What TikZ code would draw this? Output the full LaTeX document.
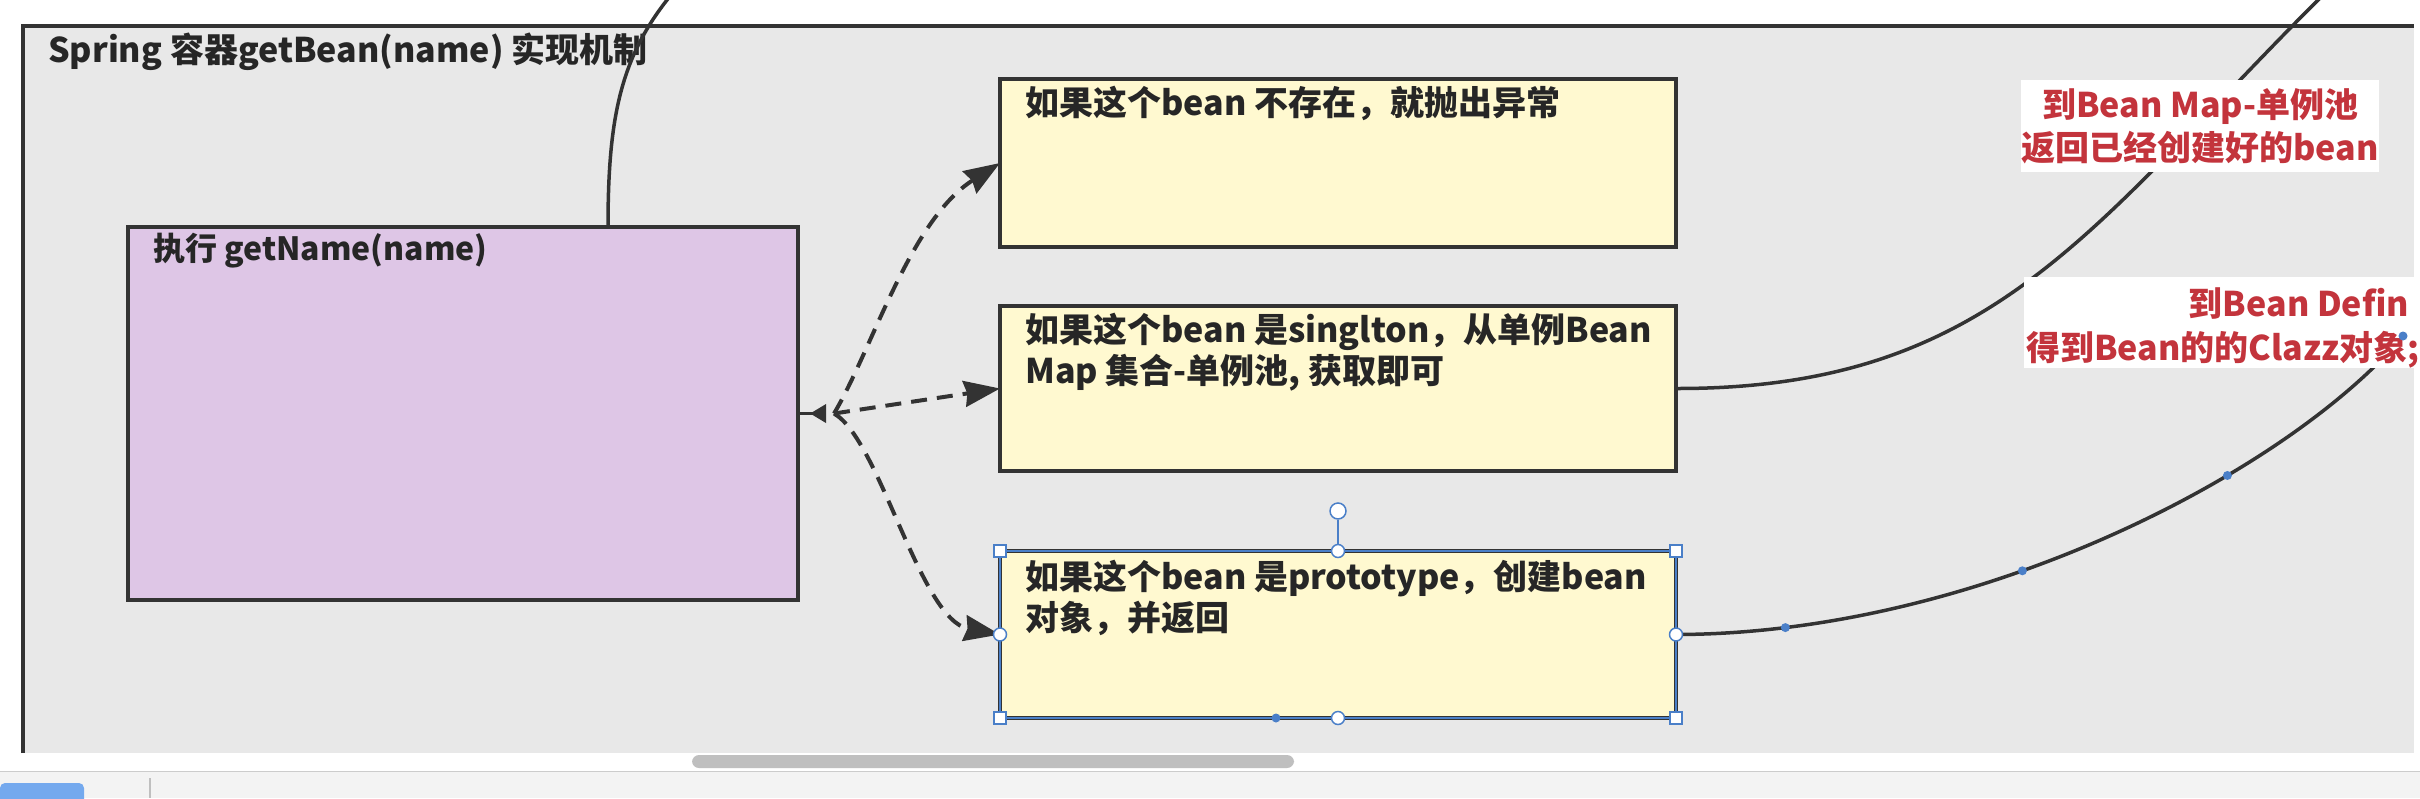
\documentclass[tikz,border=0pt]{standalone}
\usepackage{fontspec}
\setmainfont{Noto Sans CJK SC}
\usetikzlibrary{arrows.meta}
\definecolor{ink}{HTML}{333333}
\definecolor{txtc}{HTML}{262626}
\definecolor{canvas}{HTML}{E8E8E8}
\definecolor{lilac}{HTML}{DEC6E6}
\definecolor{cream}{HTML}{FFF9D0}
\definecolor{redtxt}{HTML}{C3343C}
\definecolor{selblue}{HTML}{4A7FC8}
\definecolor{barbg}{HTML}{F3F3F3}
\definecolor{scrollc}{HTML}{BFBFBF}
\definecolor{btnblue}{HTML}{74A9EE}
\newcommand\tstrut{\rule{0pt}{32pt}}
\begin{document}
\begin{tikzpicture}[x=1pt,y=-1pt,
  box/.style={draw=ink, line width=3.5pt, anchor=north west, inner sep=0pt, outer sep=0pt},
  txt/.style={anchor=north west, inner sep=0pt, align=left, text=txtc,
    font=\fontsize{34pt}{41pt}\selectfont\bfseries},
  lbl/.style={fill=white, text=redtxt, inner sep=0pt, font=\fontsize{34pt}{43pt}\selectfont\bfseries},
  wire/.style={draw=ink, line width=3.5pt},
  dashwire/.style={draw=ink, line width=4pt, dash pattern=on 16pt off 10pt,
    -{Stealth[length=36pt,width=26pt,inset=3pt]}},
  corner/.style={draw=selblue, fill=white, line width=1.5pt, minimum size=12pt, inner sep=0pt},
  midpt/.style={circle, draw=selblue, fill=white, line width=1.5pt, minimum size=13pt, inner sep=0pt},
  bdot/.style={circle, fill=selblue, minimum size=9pt, inner sep=0pt},
]
\useasboundingbox (0,0) rectangle (2420,798);
\fill[white] (0,0) rectangle (2420,798);
% container
\fill[canvas] (23,26) rectangle (2414,753);
\draw[ink, line width=3.5pt] (23,753) -- (23,26) -- (2414,26);
\node[txt] (title) at (48,30) {\tstrut Spring 容器getBean(name) 实现机制};

% boxes
\node[box, fill=lilac, minimum width=670pt, minimum height=373pt] (exec) at (128,227) {};
\node[box, fill=cream, minimum width=676pt, minimum height=168pt] (b1) at (1000,79) {};
\node[box, fill=cream, minimum width=676pt, minimum height=165pt] (b2) at (1000,306) {};
\node[box, fill=cream, minimum width=676pt, minimum height=167pt] (b3) at (1000,551) {};

\node[txt, font=\fontsize{32pt}{39pt}\selectfont\bfseries] (exect) at (153,228) {\tstrut 执行 getName(name)};
\node[txt] (b1t) at (1025,83) {\tstrut 如果这个bean 不存在，就抛出异常};
\node[txt] (b2t) at (1025,310) {\tstrut 如果这个bean 是singlton，从单例Bean\\Map 集合-单例池, 获取即可};
\node[txt] (b3t) at (1025,557) {\tstrut 如果这个bean 是prototype，创建bean\\对象，并返回};

% solid curves
\coordinate (up1) at (687,-26);
\coordinate (up2) at (2345,-27);
\coordinate (c3end) at (2403,336);
\draw[wire] ([xshift=480pt]exec.north west) .. controls (608,120) and (620,60) .. (667,0) -- (up1);
\draw[wire] (b2.east) .. controls (1992,389) and (2090,228) .. (2318,0) -- (up2);
\draw[wire] (b3.east) .. controls (1980,634) and (2290,470) .. (c3end)
  node[bdot, pos=0.12] (h1) {} node[bdot, pos=0.39] (h2) {} node[bdot, pos=0.66] (h3) {};

% labels
\node[lbl, align=center, minimum width=358pt, minimum height=92pt] (map) at (2200,126)
  {到Bean Map-单例池\\返回已经创建好的bean};
\node[fill=white, inner sep=0pt, anchor=north west, minimum width=400pt, minimum height=91pt] (defn) at (2024,277) {};
\node[lbl, fill=none, anchor=base east] (defn1) at (2409,316) {到Bean Defin};
\node[lbl, fill=none, anchor=base west] (defn2) at (2026,360) {得到Bean的的Clazz对象;};
\node[bdot] (h4) at (c3end) {};

% dashed connectors
\coordinate (fork) at ([xshift=28pt]exec.east);
\draw[wire, -{Triangle[reversed,length=16pt,width=18pt]}] (exec.east) -- (fork);
\coordinate (fork2) at ([xshift=36pt]exec.east);
\draw[dashwire] (fork2) .. controls (872,350) and (910,220) .. (b1.west);
\draw[dashwire] (fork2) -- (b2.west);
\draw[dashwire] (fork2) .. controls (880,440) and (920,620) .. (b3.west);

% selection of b3
\draw[selblue, line width=2pt] (b3.north west) rectangle (b3.south east);
\node[midpt, minimum size=16pt] (rot) at ([yshift=40pt]b3.north) {};
\draw[selblue, line width=1.5pt] (rot) -- (b3.north);
\foreach \a in {north west, north east, south west, south east} {
  \node[corner] at (b3.\a) {};
}
\foreach \a in {north, south, west, east} {
  \node[midpt] at (b3.\a) {};
}
\node[bdot] (h0) at ([xshift=-62pt]b3.south) {};

% editor chrome
\fill[barbg] (0,771) rectangle (2420,798);
\draw[gray!40, line width=1pt] (0,771) -- (2420,771);
\draw[gray!50, line width=1.5pt] (150,778) -- (150,798);
\fill[btnblue, rounded corners=5pt] (0,783) rectangle (84,805);
\fill[scrollc, rounded corners=7pt] (692,755) rectangle (1294,768);
\end{tikzpicture}
\end{document}
